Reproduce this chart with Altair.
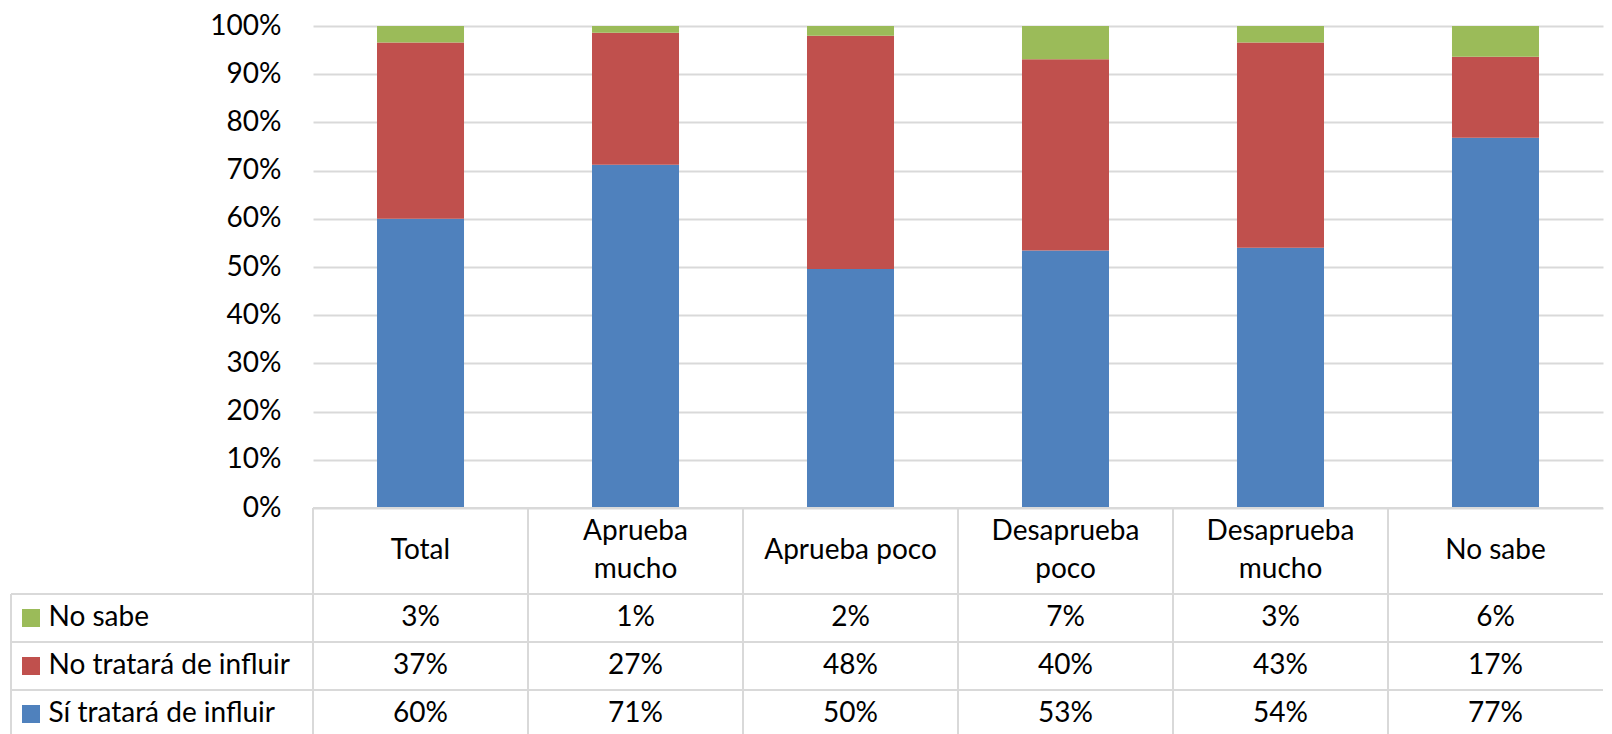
import altair as alt
import pandas as pd

categories = ["Total", "Aprueba mucho", "Aprueba poco", "Desaprueba poco", "Desaprueba mucho", "No sabe"]
header_labels = ["Total", "Aprueba\nmucho", "Aprueba poco", "Desaprueba\npoco", "Desaprueba\nmucho", "No sabe"]
series = ["Sí tratará de influir", "No tratará de influir", "No sabe"]
row_order = ["No sabe", "No tratará de influir", "Sí tratará de influir"]
colors = ["#4f81bd", "#c0504d", "#9bbb59"]

si_tratara = [60.0, 71.2, 49.6, 53.4, 54.0, 76.8]
no_tratara = [36.6, 27.4, 48.4, 39.7, 42.6, 16.8]
no_sabe = [3.4, 1.4, 2.0, 6.9, 3.4, 6.4]

y_ticks = [0, 0.1, 0.2, 0.3, 0.4, 0.5, 0.6, 0.7, 0.8, 0.9, 1.0]

FONT = "Lato"
FS = 28
GRID = "#d9d9d9"
W = 1290
H = 482
HH = 86
ROW = 48
BH = ROW * 3
LH = 38

rows = []
for s_i, (name, vals) in enumerate(zip(series, [si_tratara, no_tratara, no_sabe])):
    for c, v in zip(categories, vals):
        rows.append({"category": c, "series": name, "frac": v / 100.0, "stack_order": s_i})
df = pd.DataFrame(rows)

color_enc = alt.Color("series:N", scale=alt.Scale(domain=series, range=colors), legend=None)

# ---- bar chart ----
bars = alt.Chart(df).mark_bar().encode(
    x=alt.X("category:N", sort=categories,
            scale=alt.Scale(paddingInner=0.5953, paddingOuter=0.2977), axis=None),
    y=alt.Y("frac:Q", stack="zero", scale=alt.Scale(domain=[0, 1], nice=False),
            axis=alt.Axis(values=y_ticks, format=".0%", title=None, ticks=False, domain=False,
                          labelFont=FONT, labelFontSize=FS, labelColor="black", labelPadding=32,
                          gridColor=GRID, gridWidth=2)),
    color=color_enc,
    order=alt.Order("stack_order:Q"),
).properties(width=W, height=H)

# ---- header row ----
hdf = pd.DataFrame({"category": categories, "label": header_labels})
hdf["lines"] = hdf["label"].str.count("\n") + 1
hx_scale = alt.Scale(paddingInner=0, paddingOuter=0)
hx = alt.X("category:N", sort=categories, scale=hx_scale, axis=None)
header_text1 = alt.Chart(hdf).transform_filter("datum.lines == 1").mark_text(
    font=FONT, fontSize=FS, baseline="middle", align="center", color="black"
).encode(x=hx, y=alt.value(HH / 2), text="label:N")
header_text2 = alt.Chart(hdf).transform_filter("datum.lines == 2").mark_text(
    font=FONT, fontSize=FS, lineBreak="\n", lineHeight=LH, baseline="middle", align="center",
    color="black", dy=-LH / 2
).encode(x=hx, y=alt.value(HH / 2), text="label:N")
header_vrules = alt.Chart(hdf).mark_rule(color=GRID, strokeWidth=2).encode(
    x=alt.X("category:N", sort=categories, scale=hx_scale, axis=None, bandPosition=0),
    y=alt.value(0), y2=alt.value(HH),
)
header_top = alt.Chart(hdf).mark_rule(color=GRID, strokeWidth=2).encode(
    x=alt.value(0), x2=alt.value(W), y=alt.value(0),
)
header = alt.layer(header_vrules, header_top, header_text1, header_text2).properties(width=W, height=HH)

# ---- table body ----
def yenc(band_pos=None):
    kw = {}
    if band_pos is not None:
        kw["bandPosition"] = band_pos
    return alt.Y("series:N", sort=row_order, scale=alt.Scale(paddingInner=0, paddingOuter=0),
                 axis=alt.Axis(title=None, labelAlign="left", labelPadding=265, ticks=False, domain=False,
                               labelFont=FONT, labelFontSize=FS, labelColor="black", grid=False,
                               labelLimit=0),
                 **kw)

rdf = pd.DataFrame({"series": row_order})
body_text = alt.Chart(df).mark_text(font=FONT, fontSize=FS, color="black", baseline="middle").encode(
    x=hx,
    y=yenc(),
    text=alt.Text("frac:Q", format=".0%"),
)
body_hrules = alt.Chart(rdf).mark_rule(color=GRID, strokeWidth=2).encode(
    y=yenc(0), x=alt.value(-302), x2=alt.value(W),
)
body_vrules = alt.Chart(hdf).mark_rule(color=GRID, strokeWidth=2).encode(
    x=alt.X("category:N", sort=categories, scale=hx_scale, axis=None, bandPosition=0),
    y=alt.value(0), y2=alt.value(BH),
)
body_left = alt.Chart(rdf).mark_rule(color=GRID, strokeWidth=2).encode(
    x=alt.value(-302), y=alt.value(0), y2=alt.value(BH),
)
body_sq = alt.Chart(rdf).mark_square(size=324, opacity=1).encode(
    x=alt.value(-282), y=yenc(), color=color_enc,
)
body = alt.layer(body_hrules, body_vrules, body_left, body_sq, body_text).properties(width=W, height=BH)

chart = alt.vconcat(bars, header, body, spacing=0, bounds="flush").resolve_scale(
    x="independent", y="independent"
).properties(
    padding={"left": 2, "top": 4, "right": 0, "bottom": 0}
).configure_view(stroke=None)

chart.save("out.html", embed_options={"renderer": "svg", "actions": False})
